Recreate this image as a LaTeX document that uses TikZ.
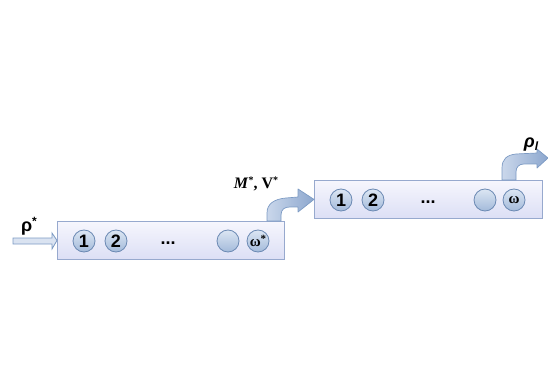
\documentclass[tikz,border=0pt]{standalone}
\usepackage{fontspec}
\setmainfont{Liberation Sans}
\newfontfamily\serifrm{Liberation Serif}
\usetikzlibrary{arrows.meta}
\definecolor{boxtop}{HTML}{F6F6FD}
\definecolor{boxbot}{HTML}{DCDFF5}
\definecolor{boxline}{HTML}{97A9CE}
\definecolor{circtop}{HTML}{DCE6F3}
\definecolor{circbot}{HTML}{A3BADA}
\definecolor{circline}{HTML}{6B89B3}
\definecolor{arrtop}{HTML}{CAD7EB}
\definecolor{arrbot}{HTML}{8CA7CE}
\definecolor{arrline}{HTML}{7D9BC4}
\tikzset{
  stagebox/.style={draw=boxline, line width=0.8pt, top color=boxtop, bottom color=boxbot, minimum width=#1, minimum height=38pt, inner sep=0pt},
  ball/.style={circle, draw=circline, line width=0.8pt, top color=circtop, bottom color=circbot, minimum size=22pt, inner sep=0pt, font=\fontsize{18}{18}\selectfont\bfseries},
  dots/.style={font=\fontsize{18}{18}\selectfont\bfseries, inner sep=0pt},
  blockarrow/.style={draw=arrline, line width=0.7pt, left color=arrtop, right color=arrbot, line join=round},
  lbl/.style={inner sep=0pt}
}
\begin{document}
\begin{tikzpicture}[x=1pt,y=-1pt]
\useasboundingbox (0,0) rectangle (548,387);
% boxes
\node[stagebox=227pt, anchor=north west] (box1) at (57,221) {};
\node[stagebox=228pt, anchor=north west] (box2) at (314,180) {};
% balls box 1
\node[ball] (a1) at (84,241) {1};
\node[ball] (a2) at (116,241) {2};
\node[dots] (ad) at (168,243) {...};
\node[ball] (ae) at (228,241) {};
\node[ball, font=\serifrm\fontsize{15}{15}\selectfont\bfseries] (aw) at (258,241) {ω\raisebox{4pt}{\fontsize{11}{11}\selectfont*}};
% balls box 2
\node[ball] (b1) at (341,200) {1};
\node[ball] (b2) at (373,200) {2};
\node[dots] (bd) at (428,202) {...};
\node[ball] (be) at (485,200) {};
\node[ball, font=\serifrm\fontsize{15}{15}\selectfont\bfseries] (bw) at (514,200) {ω};
% input arrow
\fill[arrtop!70!white] (13,238) -- (52,238) -- (52,233) -- (57,241) -- (52,249) -- (52,244) -- (13,244) -- cycle;
\draw[arrline, line width=0.8pt, line join=miter] (13,238) -- (52,238) -- (52,233) -- (box1.west) -- (52,249) -- (52,244) -- (13,244) -- cycle;
\node[lbl, font=\fontsize{18}{18}\selectfont\bfseries] (rhostar) at (29,226) {ρ\raisebox{6pt}{\fontsize{12}{12}\selectfont *}};
% curved arrow box1 -> box2
\path[blockarrow] (267,221) -- (267,213) .. controls (267,204) and (274,199) .. (286,198)
  -- (298,197) -- (298,189) -- (box2.west) -- (298,212) -- (298,207) -- (290,207)
  .. controls (285,207) and (281,209) .. (281,215) -- (281,221) -- cycle;
\node[lbl, font=\serifrm\fontsize{16}{16}\selectfont\bfseries, anchor=base] (mv) at (256,189) {\textit{M}\raisebox{5pt}{\fontsize{10}{10}\selectfont *}, V\raisebox{5pt}{\fontsize{10}{10}\selectfont *}};
% output arrow box2
\coordinate (outE) at (548,158);
\path[blockarrow] (502,180) -- (502,168) .. controls (502,159) and (507,155) .. (516,154)
  -- (537,153) -- (537,149) -- (outE) -- (537,168) -- (537,164) -- (524,164)
  .. controls (519,164) and (516,167) .. (516,172) -- (516,180) -- cycle;
\node[lbl, font=\fontsize{18}{18}\selectfont\bfseries\itshape, anchor=base] (rhol) at (531,148) {ρ\raisebox{-3pt}{\fontsize{12}{12}\selectfont l}};
\end{tikzpicture}
\end{document}
